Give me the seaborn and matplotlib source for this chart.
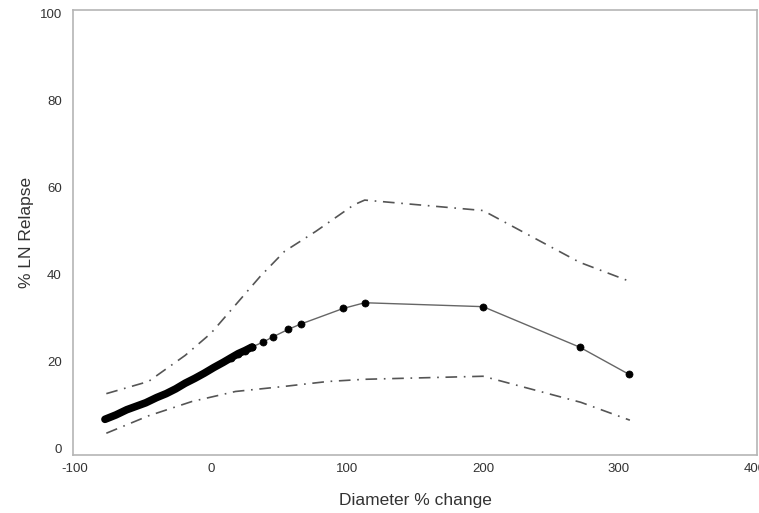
import numpy as np
import pandas as pd
import matplotlib
matplotlib.use("Agg")
import matplotlib.pyplot as plt
import seaborn as sns

# dense observations (left part of the curve)
dense_x = [-78, -70, -62, -55, -48, -40, -33, -26, -19, -12, -5, 2, 9, 15, 20, 25, 30]
dense_y = [6.8, 7.8, 9.0, 9.8, 10.6, 11.8, 12.7, 13.8, 15.1, 16.2, 17.4, 18.7, 19.9, 21.0, 21.9, 22.6, 23.4]

# sparse observations
sparse_x = [30, 38.5, 45.8, 56.9, 66, 97.3, 113, 200, 271, 307]
sparse_y = [23.4, 24.6, 25.8, 27.5, 28.7, 32.3, 33.6, 32.7, 23.4, 17.2]

# confidence limits
upper_x = [-77, -46, -19, 0, 18, 36, 54, 77, 105, 113, 200, 271, 308]
upper_y = [12.7, 15.5, 21.5, 26.6, 33.1, 39.6, 45.4, 50.0, 56.1, 57.2, 54.8, 42.9, 38.5]
lower_x = [-77, -46, -14, 18, 52, 86, 113, 200, 272, 308]
lower_y = [3.6, 7.6, 10.9, 13.2, 14.3, 15.5, 16.0, 16.7, 10.7, 6.6]

sns.set_theme(style="white")
plt.rcParams['font.family'] = ['Liberation Sans', 'DejaVu Sans']

fig = plt.figure(figsize=(7.59, 5.13), dpi=100)
ax = fig.add_axes([0.0962, 0.1131, 0.9012, 0.8674])

ci_style = (0, (7, 4, 1, 4))
sns.lineplot(x=upper_x, y=upper_y, ax=ax, color="#555555", lw=1.2, linestyle=ci_style, sort=False)
sns.lineplot(x=lower_x, y=lower_y, ax=ax, color="#555555", lw=1.2, linestyle=ci_style, sort=False)

# thin connecting line + markers
sns.lineplot(x=sparse_x, y=sparse_y, ax=ax, color="#666666", lw=1.0, sort=False)
sns.lineplot(x=dense_x, y=dense_y, ax=ax, color="black", lw=5.5, sort=False,
             solid_capstyle="round")
sns.scatterplot(x=dense_x[-4:] + sparse_x, y=dense_y[-4:] + sparse_y, ax=ax, color="black",
                s=26, edgecolor="black", linewidth=0.5, zorder=5)

ax.set_xlim(-101.5, 401.5)
ax.set_ylim(-1.4, 100.9)
ax.set_xticks([-100, 0, 100, 200, 300, 400])
ax.set_yticks([0, 20, 40, 60, 80, 100])
ax.set_xticklabels(["-100", "0", "100", "200", "300", "400"])

for s in ax.spines.values():
    s.set_color("#b5b5b5")
    s.set_linewidth(1.2)
ax.tick_params(axis="both", direction="out", length=4, width=1, color="#b5b5b5",
               labelsize=9.5, labelcolor="#333333", pad=4)
ax.tick_params(axis="x", pad=1.5)

ax.set_xlabel("Diameter % change", fontsize=12.5, color="#333333", labelpad=13)
ax.set_ylabel("% LN Relapse", fontsize=12.5, color="#333333", labelpad=4)

fig.savefig("out.png", dpi=100)
